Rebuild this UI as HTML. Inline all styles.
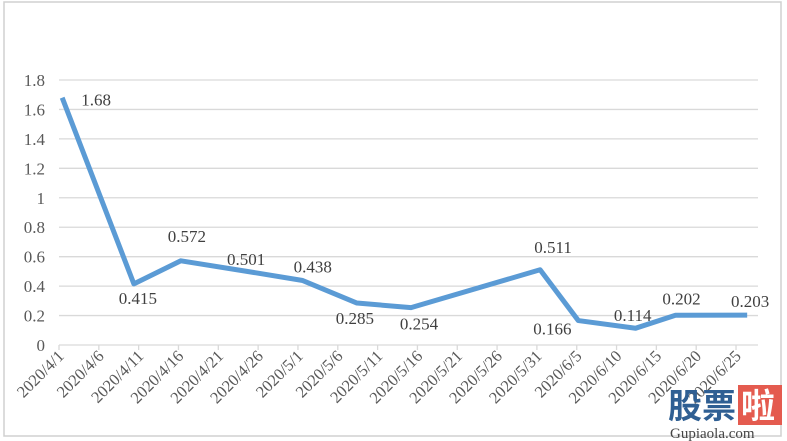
<!DOCTYPE html>
<html><head><meta charset="utf-8"><style>
body{margin:0;background:#fff;}
svg{display:block;font-family:"Liberation Serif",serif;}
</style></head><body>
<svg id="chart" width="787" height="441">
<rect x="4" y="2" width="777" height="434" fill="#fff" stroke="#d0d0d0" stroke-width="1.5"/>
<g id="grid"></g><g id="xaxis"></g><g id="series"></g><g id="labels"></g>
<g>
<text x="668" y="418" font-family="'Noto Sans CJK SC',sans-serif" font-size="34" font-weight="bold" fill="#2f5f93">股票</text>
<rect x="738" y="385" width="44" height="40" fill="#e45b4f"/>
<text x="741" y="418" font-family="'Noto Sans CJK SC',sans-serif" font-size="34" font-weight="bold" fill="#fff">啦</text>
<text x="670" y="438" font-size="15" fill="#444">Gupiaola.com</text>
</g>
</svg>
<script>
const tickLabels=["2020/4/1","2020/4/6","2020/4/11","2020/4/16","2020/4/21","2020/4/26","2020/5/1","2020/5/6","2020/5/11","2020/5/16","2020/5/21","2020/5/26","2020/5/31","2020/6/5","2020/6/10","2020/6/15","2020/6/20","2020/6/25"];
const yTicks=[0,0.2,0.4,0.6,0.8,1,1.2,1.4,1.6,1.8];
const dayOffsets=[0.4,9.4,15.3,23.5,30.6,37.4,44.2,60.4,65.2,72.4,77.4,86.4];
const values=[1.68,0.415,0.572,0.501,0.438,0.285,0.254,0.511,0.166,0.114,0.202,0.203];
const labelDx=[34,4,6,0,10,-2,8,13,-26,-3,6,3];
const labelDy=[2,14,-25,-12,-14,15,16,-23,8,-13,-17,-14];
const NS="http://www.w3.org/2000/svg";
const x=d=>59+d*7.965;
const y=v=>345-v*(265/1.8);
function mk(t,a,p){const e=document.createElementNS(NS,t);for(const k in a)e.setAttribute(k,a[k]);p.appendChild(e);return e;}
const grid=document.getElementById('grid');
yTicks.forEach(v=>{
 const l=mk('line',{x1:59,x2:758,y1:y(v),y2:y(v),stroke:'#d9d9d9','stroke-width':1.3},grid);
 
 
 const t=mk('text',{x:45,y:y(v)+6,'text-anchor':'end','font-size':17,fill:'#595959'},grid);
 t.textContent=String(v);
 
 
});
const xa=document.getElementById('xaxis');
tickLabels.forEach((s,i)=>{
 const px=x(i*5);
 const tk=mk('line',{x1:px,x2:px,y1:345,y2:350,stroke:'#d9d9d9','stroke-width':1.3},xa);
 
 
 const t=mk('text',{x:px+6,y:357,'text-anchor':'end','font-size':16.5,fill:'#595959',transform:`rotate(-45 ${px+6} 357)`},xa);
 t.textContent=s;
 
 
});
const ser=document.getElementById('series');
const pl=mk('polyline',{points:values.map((v,i)=>x(dayOffsets[i])+','+y(v)).join(' '),fill:'none',stroke:'#5b9bd5','stroke-width':5,'stroke-linejoin':'round'},ser);


const lb=document.getElementById('labels');
values.forEach((v,i)=>{
 const t=mk('text',{x:x(dayOffsets[i])+labelDx[i],y:y(v)+labelDy[i]+6,'text-anchor':'middle','font-size':17,fill:'#404040'},lb);
 t.textContent=String(v);
 
 
});
</script>
</body></html>
